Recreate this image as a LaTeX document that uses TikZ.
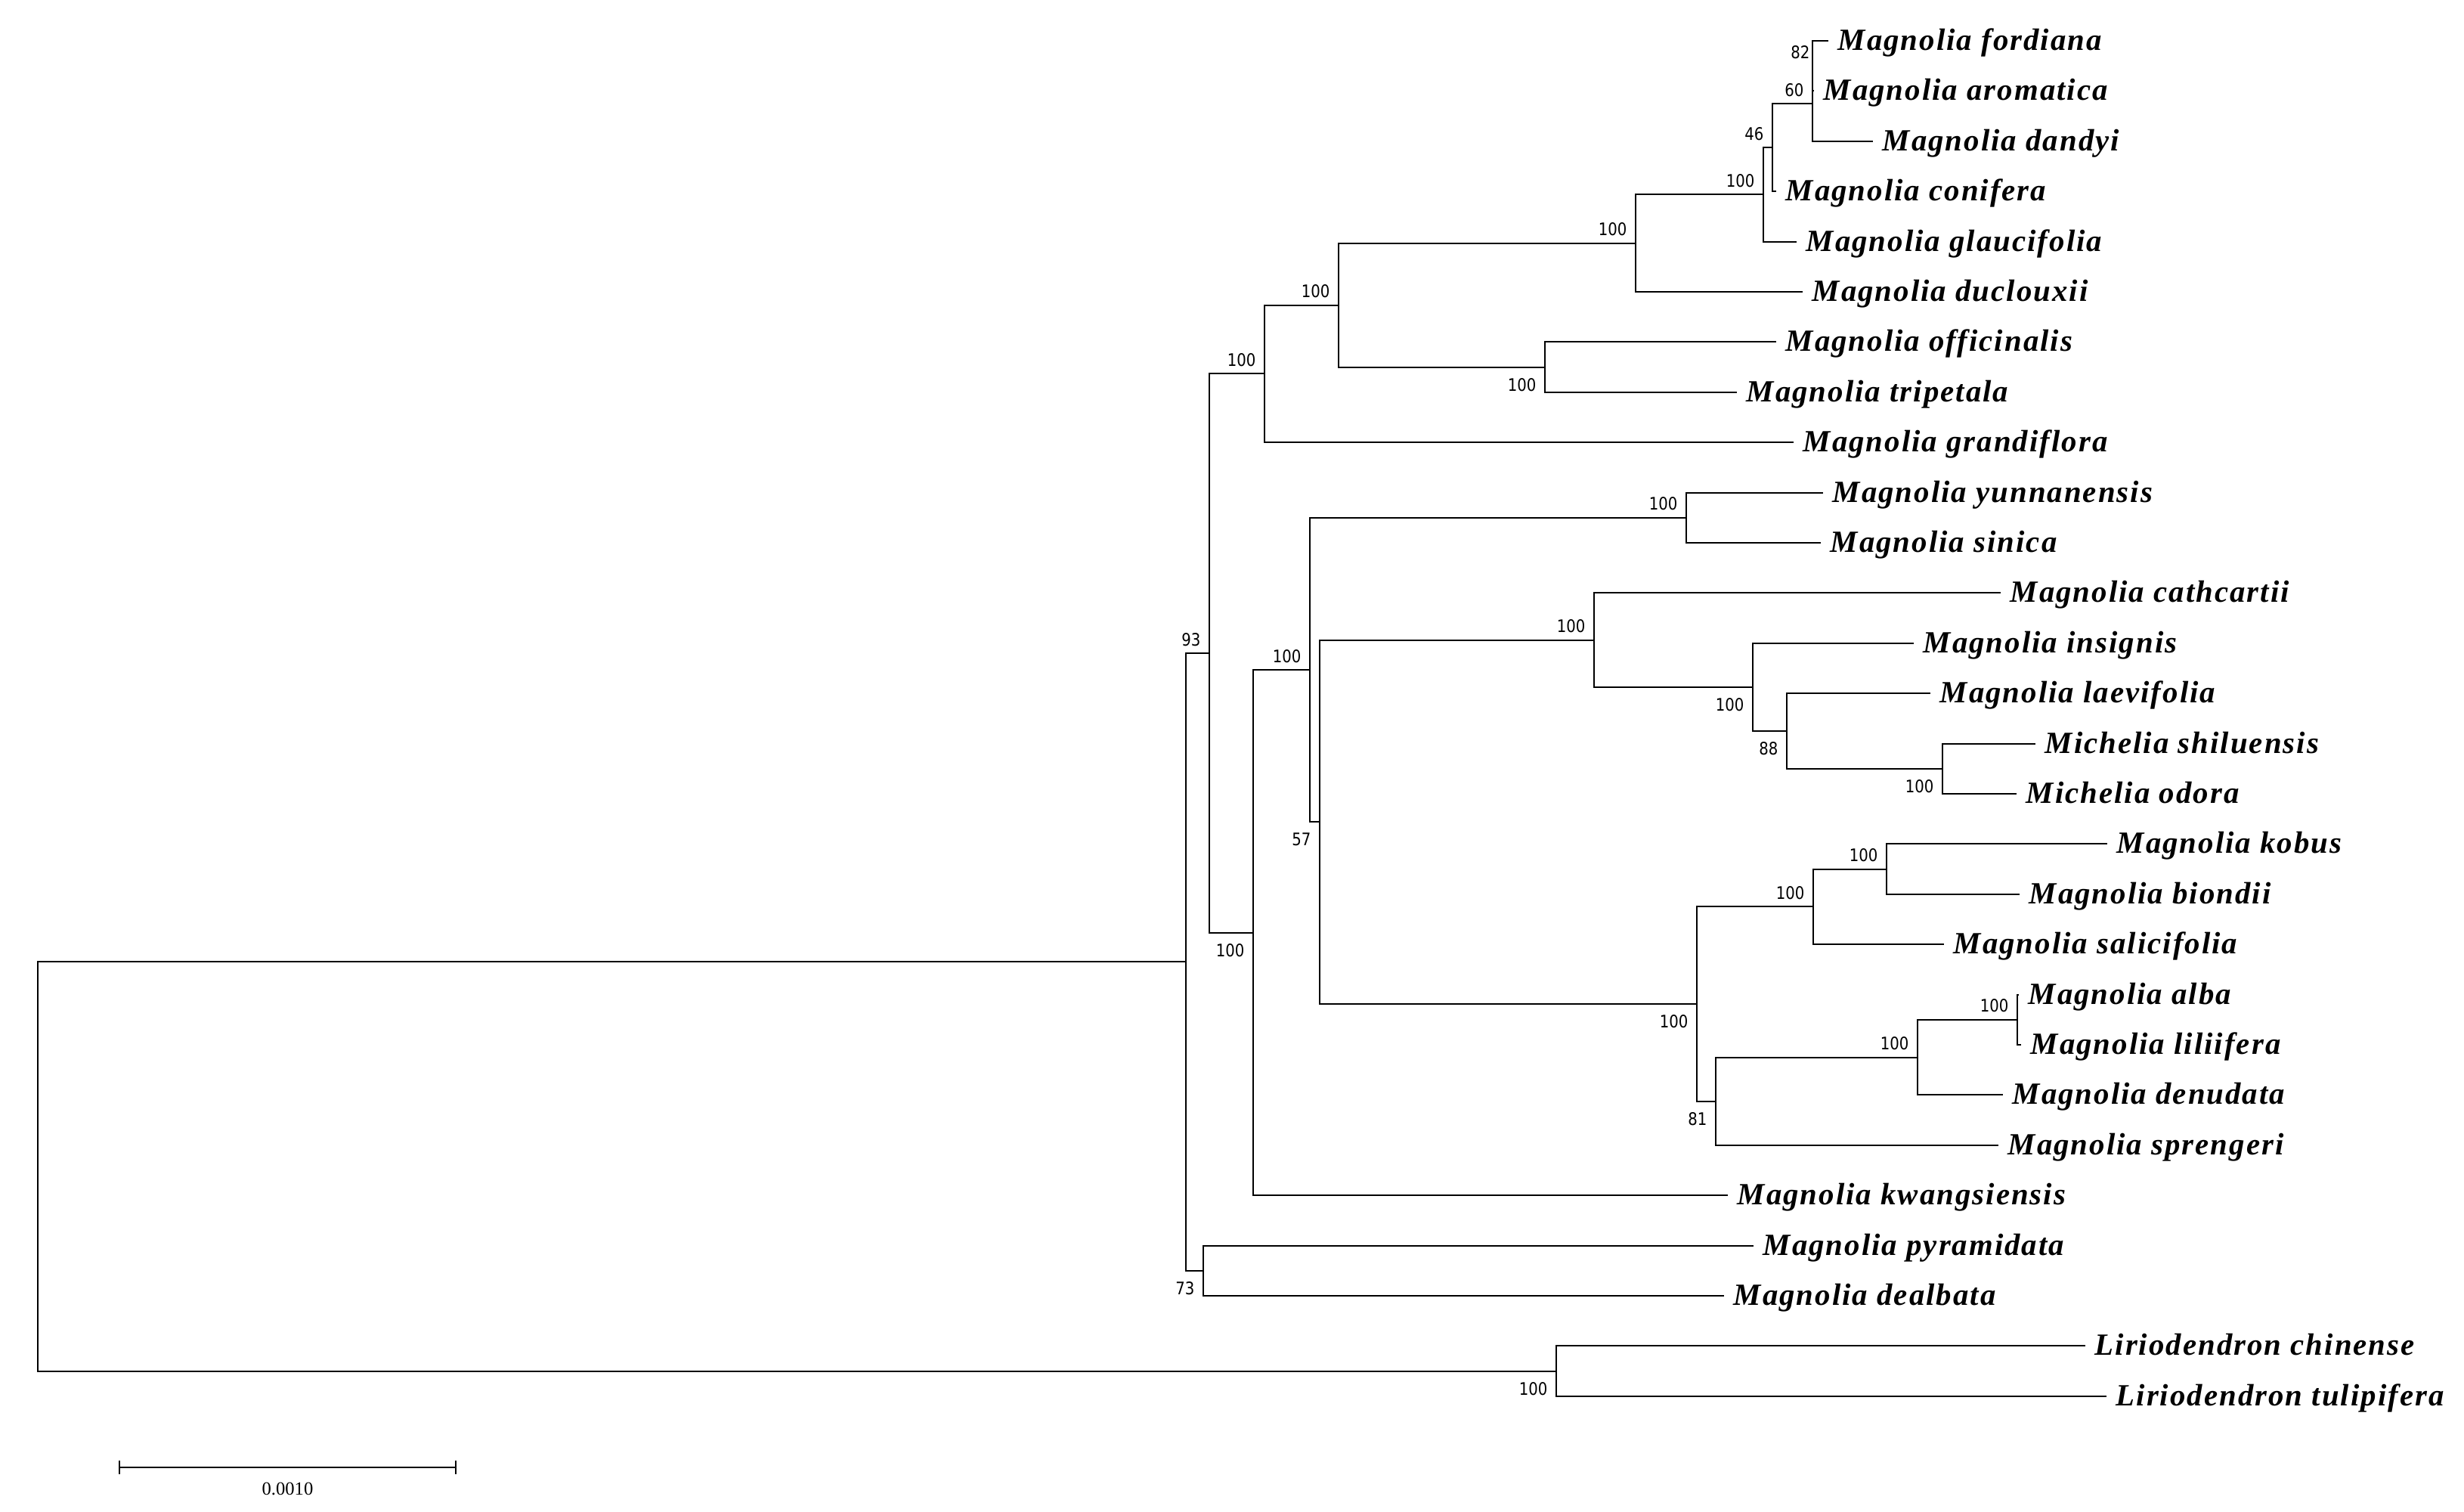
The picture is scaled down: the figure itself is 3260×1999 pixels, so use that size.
\documentclass[tikz,border=0pt]{standalone}
\usepackage{fontspec}
\setmainfont{Liberation Serif}
\newfontfamily\leaffont[LetterSpace=5,Ligatures=NoCommon]{Liberation Serif}
\newfontfamily\numfont[FakeStretch=0.86]{DejaVu Sans}
\begin{document}
\begin{tikzpicture}[x=0.01cm,y=-0.01cm,
  br/.style={line width=0.57pt},
  leaf/.style={anchor=base west,inner sep=0pt,xshift=0.12cm,yshift=-0.125cm,
    font={\leaffont\bfseries\itshape\fontsize{11.6pt}{13pt}\selectfont}},
  supA/.style={anchor=base east,inner sep=0pt,xshift=-0.11cm,yshift=0.10cm,
    font={\numfont\fontsize{6.5pt}{7pt}\selectfont}},
  supB/.style={anchor=north east,inner sep=0pt,xshift=-0.11cm,yshift=-0.14cm,
    font={\numfont\fontsize{6.5pt}{7pt}\selectfont}},
  sbtxt/.style={anchor=north,inner sep=0pt,font={\fontsize{7pt}{8pt}\selectfont}}]
\useasboundingbox (0,0) rectangle (3260,1999);

% internal nodes
\coordinate (root) at (50,1543);
\coordinate (nIn) at (1569,1272.4);
\coordinate (n93) at (1600,864);
\coordinate (n73) at (1592,1680.8);
\coordinate (nLir) at (2059,1813.6);
\coordinate (n100e) at (1673,494.4);
\coordinate (n797) at (1658,1233.6);
\coordinate (n100d) at (1771,403.65);
\coordinate (n100c) at (2044,485.6);
\coordinate (n100b) at (2164,321.7);
\coordinate (n100a) at (2333,257.4);
\coordinate (n46) at (2345,195.1);
\coordinate (n60) at (2398,137);
\coordinate (n82) at (2398,87.2);
\coordinate (n833) at (1733,886);
\coordinate (nYun) at (2231,684.8);
\coordinate (n57) at (1746,1087.3);
\coordinate (n1015) at (2109,846.65);
\coordinate (n1115) at (2319,908.9);
\coordinate (n88) at (2364,967);
\coordinate (n1237) at (2570,1016.8);
\coordinate (n1080) at (2245,1328);
\coordinate (n1155) at (2399,1199.4);
\coordinate (n1200) at (2496,1149.6);
\coordinate (n1092) at (2270,1456.7);
\coordinate (n1220) at (2537,1398.6);
\coordinate (n1283) at (2669,1348.8);

% leaf ends
\coordinate (e1) at (2419,54);
\coordinate (e2) at (2400,120.4);
\coordinate (e3) at (2478,186.8);
\coordinate (e4) at (2350,253.2);
\coordinate (e5) at (2377,319.6);
\coordinate (e6) at (2385,386);
\coordinate (e7) at (2350,452.4);
\coordinate (e8) at (2298,518.8);
\coordinate (e9) at (2373,585.2);
\coordinate (e10) at (2412,651.6);
\coordinate (e11) at (2409,718);
\coordinate (e12) at (2647,784.4);
\coordinate (e13) at (2532,850.8);
\coordinate (e14) at (2554,917.2);
\coordinate (e15) at (2693,983.6);
\coordinate (e16) at (2668,1050);
\coordinate (e17) at (2788,1116.4);
\coordinate (e18) at (2672,1182.8);
\coordinate (e19) at (2572,1249.2);
\coordinate (e20) at (2671,1315.6);
\coordinate (e21) at (2674,1382);
\coordinate (e22) at (2650,1448.4);
\coordinate (e23) at (2644,1514.8);
\coordinate (e24) at (2286,1581.2);
\coordinate (e25) at (2320,1647.6);
\coordinate (e26) at (2281,1714);
\coordinate (e27) at (2759,1780.4);
\coordinate (e28) at (2787,1846.8);

% leaf labels
\node[leaf] (t1) at (e1) {Magnolia fordiana};
\node[leaf] (t2) at (e2) {Magnolia aromatica};
\node[leaf] (t3) at (e3) {Magnolia dandyi};
\node[leaf] (t4) at (e4) {Magnolia conifera};
\node[leaf] (t5) at (e5) {Magnolia glaucifolia};
\node[leaf] (t6) at (e6) {Magnolia duclouxii};
\node[leaf] (t7) at (e7) {Magnolia officinalis};
\node[leaf] (t8) at (e8) {Magnolia tripetala};
\node[leaf] (t9) at (e9) {Magnolia grandiflora};
\node[leaf] (t10) at (e10) {Magnolia yunnanensis};
\node[leaf] (t11) at (e11) {Magnolia sinica};
\node[leaf] (t12) at (e12) {Magnolia cathcartii};
\node[leaf] (t13) at (e13) {Magnolia insignis};
\node[leaf] (t14) at (e14) {Magnolia laevifolia};
\node[leaf] (t15) at (e15) {Michelia shiluensis};
\node[leaf] (t16) at (e16) {Michelia odora};
\node[leaf] (t17) at (e17) {Magnolia kobus};
\node[leaf] (t18) at (e18) {Magnolia biondii};
\node[leaf] (t19) at (e19) {Magnolia salicifolia};
\node[leaf] (t20) at (e20) {Magnolia alba};
\node[leaf] (t21) at (e21) {Magnolia liliifera};
\node[leaf] (t22) at (e22) {Magnolia denudata};
\node[leaf] (t23) at (e23) {Magnolia sprengeri};
\node[leaf] (t24) at (e24) {Magnolia kwangsiensis};
\node[leaf] (t25) at (e25) {Magnolia pyramidata};
\node[leaf] (t26) at (e26) {Magnolia dealbata};
\node[leaf] (t27) at (e27) {Liriodendron chinense};
\node[leaf] (t28) at (e28) {Liriodendron tulipifera};

% branches
\draw[br] (root) |- (nIn);
\draw[br] (root) |- (nLir);
\draw[br] (nLir) |- (e27);
\draw[br] (nLir) |- (e28);
\draw[br] (nIn) |- (n93);
\draw[br] (nIn) |- (n73);
\draw[br] (n73) |- (e25);
\draw[br] (n73) |- (e26);
\draw[br] (n93) |- (n100e);
\draw[br] (n93) |- (n797);
\draw[br] (n100e) |- (n100d);
\draw[br] (n100e) |- (e9);
\draw[br] (n100d) |- (n100b);
\draw[br] (n100d) |- (n100c);
\draw[br] (n100c) |- (e7);
\draw[br] (n100c) |- (e8);
\draw[br] (n100b) |- (n100a);
\draw[br] (n100b) |- (e6);
\draw[br] (n100a) |- (n46);
\draw[br] (n100a) |- (e5);
\draw[br] (n46) |- (n60);
\draw[br] (n46) |- (e4);
\draw[br] (n60) |- (n82);
\draw[br] (n60) |- (e3);
\draw[br] (n82) |- (e1);
\draw[br] (n82) |- (e2);
\draw[br] (n797) |- (n833);
\draw[br] (n797) |- (e24);
\draw[br] (n833) |- (nYun);
\draw[br] (n833) |- (n57);
\draw[br] (nYun) |- (e10);
\draw[br] (nYun) |- (e11);
\draw[br] (n57) |- (n1015);
\draw[br] (n57) |- (n1080);
\draw[br] (n1015) |- (e12);
\draw[br] (n1015) |- (n1115);
\draw[br] (n1115) |- (e13);
\draw[br] (n1115) |- (n88);
\draw[br] (n88) |- (e14);
\draw[br] (n88) |- (n1237);
\draw[br] (n1237) |- (e15);
\draw[br] (n1237) |- (e16);
\draw[br] (n1080) |- (n1155);
\draw[br] (n1080) |- (n1092);
\draw[br] (n1155) |- (n1200);
\draw[br] (n1155) |- (e19);
\draw[br] (n1200) |- (e17);
\draw[br] (n1200) |- (e18);
\draw[br] (n1092) |- (n1220);
\draw[br] (n1092) |- (e23);
\draw[br] (n1220) |- (n1283);
\draw[br] (n1220) |- (e22);
\draw[br] (n1283) |- (e20);
\draw[br] (n1283) |- (e21);

% support values
\node[supA,xshift=0.08cm] (s82) at (n82) {82};
\node[supA] (s60) at (n60) {60};
\node[supA] (s46) at (n46) {46};
\node[supA] (s100a) at (n100a) {100};
\node[supA] (s100b) at (n100b) {100};
\node[supB] (s100c) at (n100c) {100};
\node[supA] (s100d) at (n100d) {100};
\node[supA] (s100e) at (n100e) {100};
\node[supA] (s93) at (n93) {93};
\node[supB] (s797) at (n797) {100};
\node[supB] (s73) at (n73) {73};
\node[supB] (sLir) at (nLir) {100};
\node[supA] (sYun) at (nYun) {100};
\node[supA] (s833) at (n833) {100};
\node[supB] (s57) at (n57) {57};
\node[supA] (s1015) at (n1015) {100};
\node[supB] (s1115) at (n1115) {100};
\node[supB] (s88) at (n88) {88};
\node[supB] (s1237) at (n1237) {100};
\node[supA] (s1200) at (n1200) {100};
\node[supA] (s1155) at (n1155) {100};
\node[supB] (s1080) at (n1080) {100};
\node[supB] (s1092) at (n1092) {81};
\node[supA] (s1220) at (n1220) {100};
\node[supA] (s1283) at (n1283) {100};

% scale bar
\coordinate (sb1) at (158,1941);
\coordinate (sb2) at (603,1941);
\draw[br] (sb1) -- (sb2);
\draw[br] ([yshift=0.09cm]sb1) -- ([yshift=-0.09cm]sb1);
\draw[br] ([yshift=0.09cm]sb2) -- ([yshift=-0.09cm]sb2);
\node[sbtxt] (sbl) at (380.5,1960) {0.0010};
\end{tikzpicture}
\end{document}
